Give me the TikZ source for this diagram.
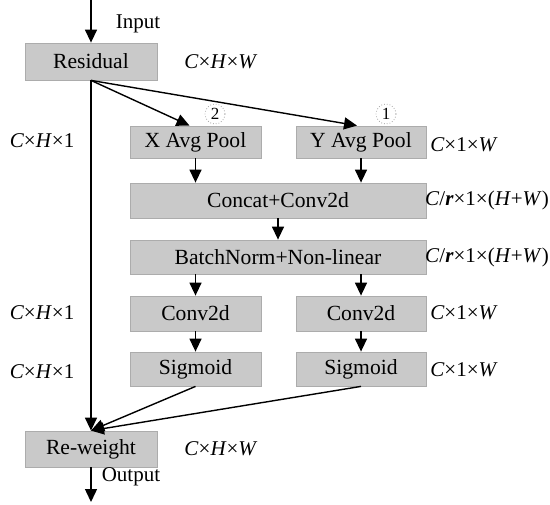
\documentclass[tikz,border=0pt]{standalone}
\usepackage{fontspec}
\setmainfont{Liberation Serif}
\usetikzlibrary{arrows.meta,calc}
\begin{document}
\begin{tikzpicture}[x=0.5pt,y=-0.5pt,
  blk/.style={draw=gray!65,line width=0.4pt,fill=gray!42,inner sep=0pt,font=\fontsize{10.8}{12}\selectfont},
  lbl/.style={font=\fontsize{10.5}{12}\selectfont,inner sep=0pt},
  num/.style={circle,draw=gray!70,densely dotted,line width=0.4pt,minimum size=10pt,inner sep=0pt,font=\fontsize{8.5}{9}\selectfont},
  arr/.style={line width=0.7pt,-{Triangle[length=6.5pt,width=6pt]}},
  ln/.style={line width=0.7pt}]
\useasboundingbox (0,0) rectangle (550,504);
\node[blk,minimum width=66pt,minimum height=18.5pt] (res) at (91,61.5) {Residual};
\node[blk,minimum width=65.5pt,minimum height=16pt] (xap) at (195.5,142) {X Avg Pool};
\node[blk,minimum width=65pt,minimum height=16pt] (yap) at (361,142) {Y Avg Pool};
\node[blk,minimum width=148pt,minimum height=17.5pt] (cat) at (278,200.5) {Concat+Conv2d};
\node[blk,minimum width=148pt,minimum height=17pt] (bn) at (278,257) {BatchNorm+Non-linear};
\node[blk,minimum width=65.5pt,minimum height=17.5pt] (cl) at (195.5,313.5) {Conv2d};
\node[blk,minimum width=65pt,minimum height=17.5pt] (cr) at (361,313.5) {Conv2d};
\node[blk,minimum width=65.5pt,minimum height=17pt] (sl) at (195.5,369) {Sigmoid};
\node[blk,minimum width=65pt,minimum height=17pt] (sr) at (361,369) {Sigmoid};
\node[blk,minimum width=66pt,minimum height=18pt] (rw) at (91,449) {Re-weight};
\node[num] (n2) at (215,114) {2};
\node[num] (n1) at (386,114) {1};
\coordinate (top) at (91,0);
\coordinate (bot) at (91,502);
\node[lbl] (tin) at (138,24) {Input};
\node[lbl] (tout) at (131,477) {Output};
\node[lbl] (d1) at (221,62) {\textit{C}×\textit{H}×\textit{W}};
\node[lbl] (d2) at (221,449) {\textit{C}×\textit{H}×\textit{W}};
\node[lbl] (d3) at (42,141) {\textit{C}×\textit{H}×1};
\node[lbl] (d4) at (42,313) {\textit{C}×\textit{H}×1};
\node[lbl] (d5) at (42,372) {\textit{C}×\textit{H}×1};
\node[lbl] (d6) at (464,145) {\textit{C}×1×\textit{W}};
\node[lbl] (d7) at (464,313) {\textit{C}×1×\textit{W}};
\node[lbl] (d8) at (464,370) {\textit{C}×1×\textit{W}};
\node[lbl] (d9) at (487,200) {\textit{C}/\textbf{\textit{r}}×1×(\textit{H}+\textit{W})};
\node[lbl] (d10) at (487,257) {\textit{C}/\textbf{\textit{r}}×1×(\textit{H}+\textit{W})};
\draw[arr] (top) -- (res.north);
\draw[arr] (res.south) -- ([xshift=-3pt]xap.north);
\draw[arr] (res.south) -- ([xshift=-2pt]yap.north);
\draw[arr] (res.south) -- (rw.north);
\draw[arr] (xap.south) -- (xap.south|-cat.north);
\draw[arr] (yap.south) -- (yap.south|-cat.north);
\draw[arr] (cat.south) -- (bn.north);
\draw[arr] (cl.north|-bn.south) -- (cl.north);
\draw[arr] (cr.north|-bn.south) -- (cr.north);
\draw[arr] (cl.south) -- (sl.north);
\draw[arr] (cr.south) -- (sr.north);
\draw[arr] (sl.south) -- (rw.north);
\draw[arr] (sr.south) -- (rw.north);
\draw[arr] (rw.south) -- (bot);
\end{tikzpicture}
\end{document}
